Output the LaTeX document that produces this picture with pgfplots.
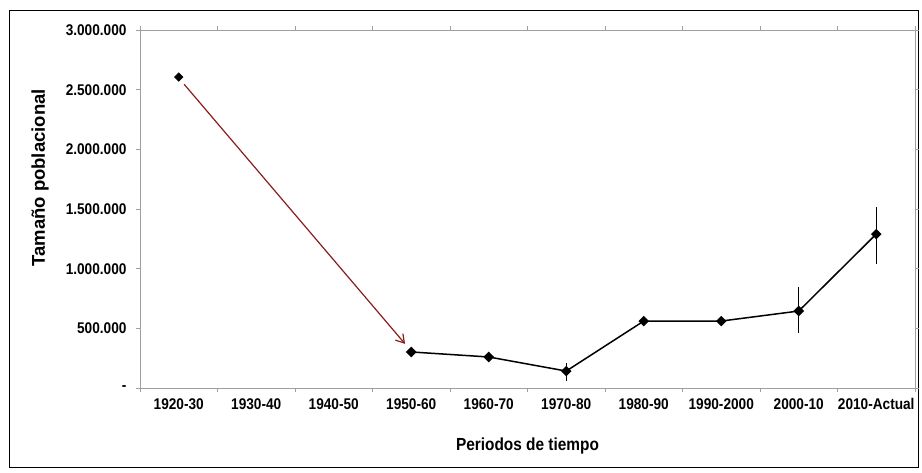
\documentclass[border=0pt]{standalone}
\usepackage{fontspec}
\setmainfont{Liberation Sans}
\newfontfamily\nf{Liberation Sans}[FakeStretch=0.88]
\usepackage{pgfplots}
\pgfplotsset{compat=1.18}
\usetikzlibrary{arrows.meta}
\definecolor{arrowred}{HTML}{8B1C1C}
\begin{document}
\begin{tikzpicture}[x=1pt,y=1pt]
\useasboundingbox (0,0) rectangle (922,472);
\draw[black, line width=1pt] (9,5) rectangle (918,461);
\begin{axis}[
  at={(140pt,84pt)}, anchor=south west,
  scale only axis, width=775pt, height=358pt,
  xmin=-0.5, xmax=9.5, ymin=0, ymax=3000000,
  scaled y ticks=false,
  axis line style={draw=gray!75, line width=0.9pt},
  tick style={draw=gray!75, line width=0.8pt},
  tick align=outside, major tick length=4pt,
  xtick={-0.5,0.5,...,9.5},
  xticklabels={1920-30,1930-40,1940-50,1950-60,1960-70,1970-80,1980-90,1990-2000,2000-10,2010-Actual,{}},
  xticklabel style={xshift=38.75pt, font=\nf\bfseries\fontsize{15.5}{17}\selectfont, yshift=-3pt},
  ytick={0,500000,1000000,1500000,2000000,2500000,3000000},
  yticklabels={-\hspace{4pt},500.000,1.000.000,1.500.000,2.000.000,2.500.000,3.000.000},
  yticklabel style={font=\nf\bfseries\fontsize{15.5}{17}\selectfont, xshift=-6pt},
  xlabel={Periodos de tiempo},
  xlabel style={at={(axis description cs:0.5,-0.162)}, anchor=center, font=\nf\bfseries\fontsize{17.5}{20}\selectfont},
  ylabel={Tamaño poblacional},
  ylabel style={at={(axis description cs:-0.129,0.587)}, anchor=center, font=\bfseries\fontsize{18.5}{21}\selectfont},
  clip=false,
]
\addplot[only marks, black, mark=square*, mark size=3pt, mark options={rotate=45}] coordinates {(0,2606000)};
\addplot[black, line width=1.5pt, mark=square*, mark size=3pt, mark options={rotate=45},
  error bars/.cd, y dir=both, y explicit, error mark=none,
  error bar style={line width=1.3pt, black}]
  coordinates {
  (3,302000)
  (4,260000)
  (5,142000) += (0,67000) -= (0,83000)
  (6,561000)
  (7,561000)
  (8,645000) += (0,200000) -= (0,185000)
  (9,1290000) += (0,227000) -= (0,251000)
  };
\draw[arrowred, line width=1.2pt, -{Straight Barb[length=8pt,width=10pt]}] (axis cs:0.07,2545000) -- (axis cs:2.92,370000);
\end{axis}
\end{tikzpicture}
\end{document}
